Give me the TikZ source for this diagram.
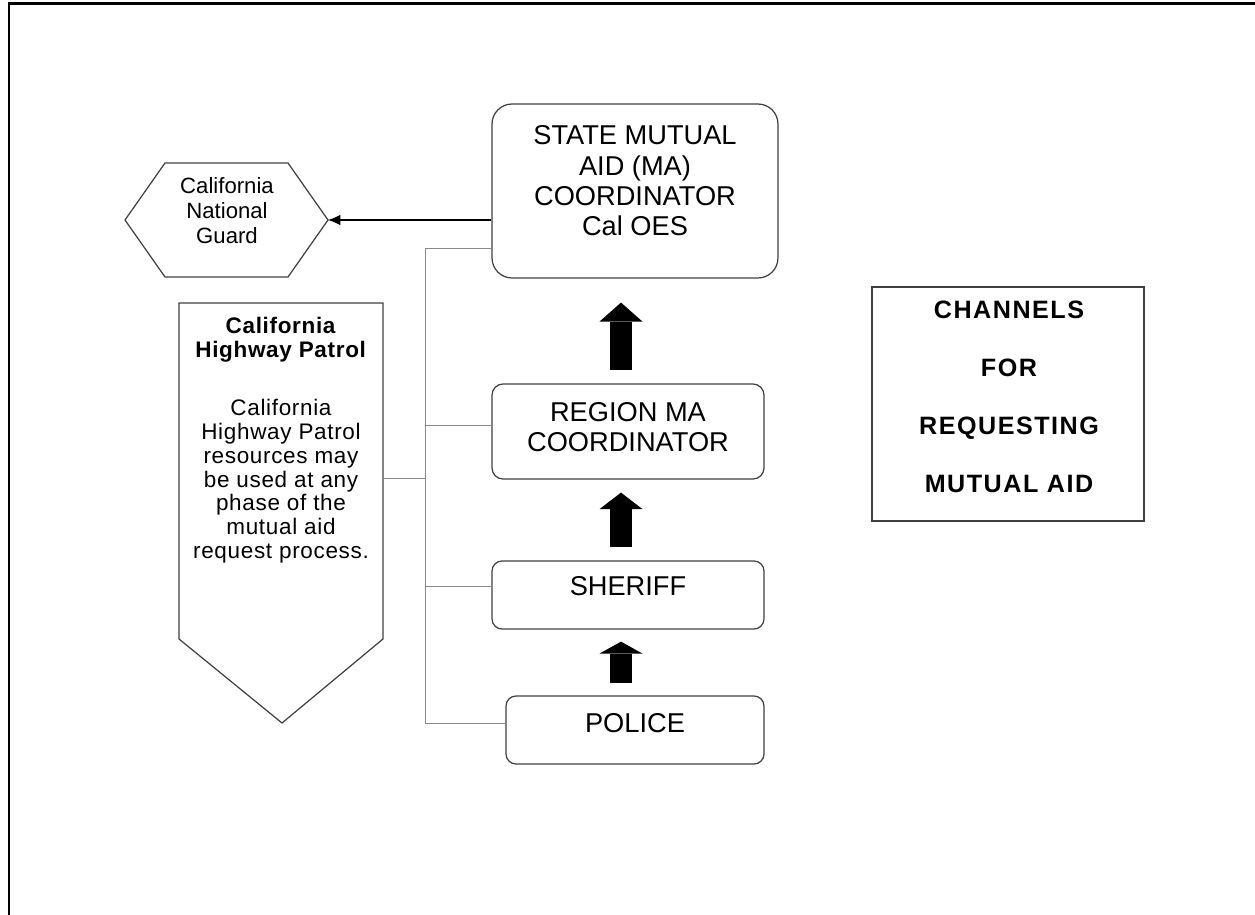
\documentclass[tikz,border=0pt]{standalone}
\usepackage{fontspec}
\setmainfont{Liberation Sans}
\usetikzlibrary{arrows.meta,calc}
\definecolor{edgegray}{HTML}{404040}
\definecolor{linkgray}{HTML}{8A8A8A}

\begin{document}
\begin{tikzpicture}[x=0.02cm, y=-0.02cm,
  frame/.style={line width=0.06cm, black},
  mabox/.style={draw=edgegray, line width=0.7pt, rounded corners=0.22cm, inner sep=0pt},
  matext/.style={align=center, inner sep=0pt, font=\fontsize{15.5}{17.3}\selectfont},
  sidetext/.style={align=center, inner sep=0pt, font=\fontsize{12.6}{14.2}\selectfont},
  outline/.style={draw=edgegray, line width=0.7pt},
  link/.style={draw=linkgray, line width=0.5pt},
  blockarrow/.style={line width=0.44cm, -{Triangle[length=#1, width=0.86cm, line width=0pt]}}
]
  \useasboundingbox (0,0) rectangle (1255,915);

  % Page frame (only top and left edges are visible)
  \draw[frame] (9,925) -- (9,4) -- (1265,4);

  % Chain of coordinators
  \node[mabox, rounded corners=0.4cm, minimum width=5.72cm, minimum height=3.48cm] (state) at (635,191) {};
  \node[matext] (statetext) at (635,181) {STATE MUTUAL\\AID (MA)\\COORDINATOR\\Cal OES};

  \node[mabox, minimum width=5.44cm, minimum height=1.9cm] (region) at (628,431.5) {};
  \node[matext] (regiontext) at (628,427) {REGION MA\\COORDINATOR};

  \node[mabox, rounded corners=0.2cm, minimum width=5.44cm, minimum height=1.36cm] (sheriff) at (628,595) {};
  \node[matext] (sherifftext) at (628,586) {SHERIFF};

  \node[mabox, rounded corners=0.2cm, minimum width=5.16cm, minimum height=1.36cm] (police) at (635,730) {};
  \node[matext] (policetext) at (635,723) {POLICE};

  % Block arrows going up the chain
  \draw[blockarrow=0.38cm, shorten <=0.26cm, shorten >=0.48cm]
    ([xshift=-0.14cm]region.north) -- ([xshift=-0.14cm]region.north |- state.south);
  \draw[blockarrow=0.33cm, shorten <=0.26cm, shorten >=0.26cm]
    ([xshift=-0.14cm]sheriff.north) -- ([xshift=-0.14cm]sheriff.north |- region.south);
  \draw[blockarrow=0.24cm, shorten <=0.24cm, shorten >=0.24cm]
    ([xshift=-0.14cm]sheriff.north |- police.north) -- ([xshift=-0.14cm]sheriff.south);

  % California National Guard (hexagon)
  \draw[outline] (125,220) -- (165,163) -- (288,163) -- (328,220) -- (288,277) -- (165,277) -- cycle;
  \coordinate (guardtip) at (328,220);
  \node[sidetext] (guardtext) at (227,211) {California\\National\\Guard};
  \draw[black, line width=0.6pt, -{Latex[length=7pt, width=6pt]}] (state.west |- guardtip) -- (guardtip);

  % California Highway Patrol (pointed panel)
  \draw[outline] (179,303) -- (383,303) -- (383,639) -- (282,723) -- (179,639) -- cycle;
  \coordinate (chpside) at (383,478);
  \node[sidetext, anchor=north, font=\addfontfeature{LetterSpace=3}\fontsize{12.8}{13.6}\selectfont] (chptext) at (281,317)
    {\textbf{California}\\\textbf{Highway Patrol}\\[19.3pt]California\\Highway Patrol\\resources may\\be used at any\\phase of the\\mutual aid\\request process.};

  % Tree of thin links
  \coordinate (j1) at (425,248);
  \coordinate (j2) at (425,425);
  \coordinate (j3) at (425,478);
  \coordinate (j4) at (425,586);
  \coordinate (j5) at (425,723);
  \draw[link] (state.west |- j1) -- (j1) -- (j5) -- (police.west |- j5);
  \draw[link] (j2) -- (region.west |- j2);
  \draw[link] (j4) -- (sheriff.west |- j4);
  \draw[link] (chpside) -- (j3);

  % Title box
  \node[draw=edgegray, line width=0.7pt, minimum width=5.44cm, minimum height=4.68cm] (title) at (1008,404) {};
  \node[align=center, inner sep=0pt, font=\addfontfeature{LetterSpace=6}\fontsize{14.3}{33}\selectfont\bfseries] (titletext) at (1009,397)
    {CHANNELS\\FOR\\REQUESTING\\MUTUAL AID};
\end{tikzpicture}
\end{document}
